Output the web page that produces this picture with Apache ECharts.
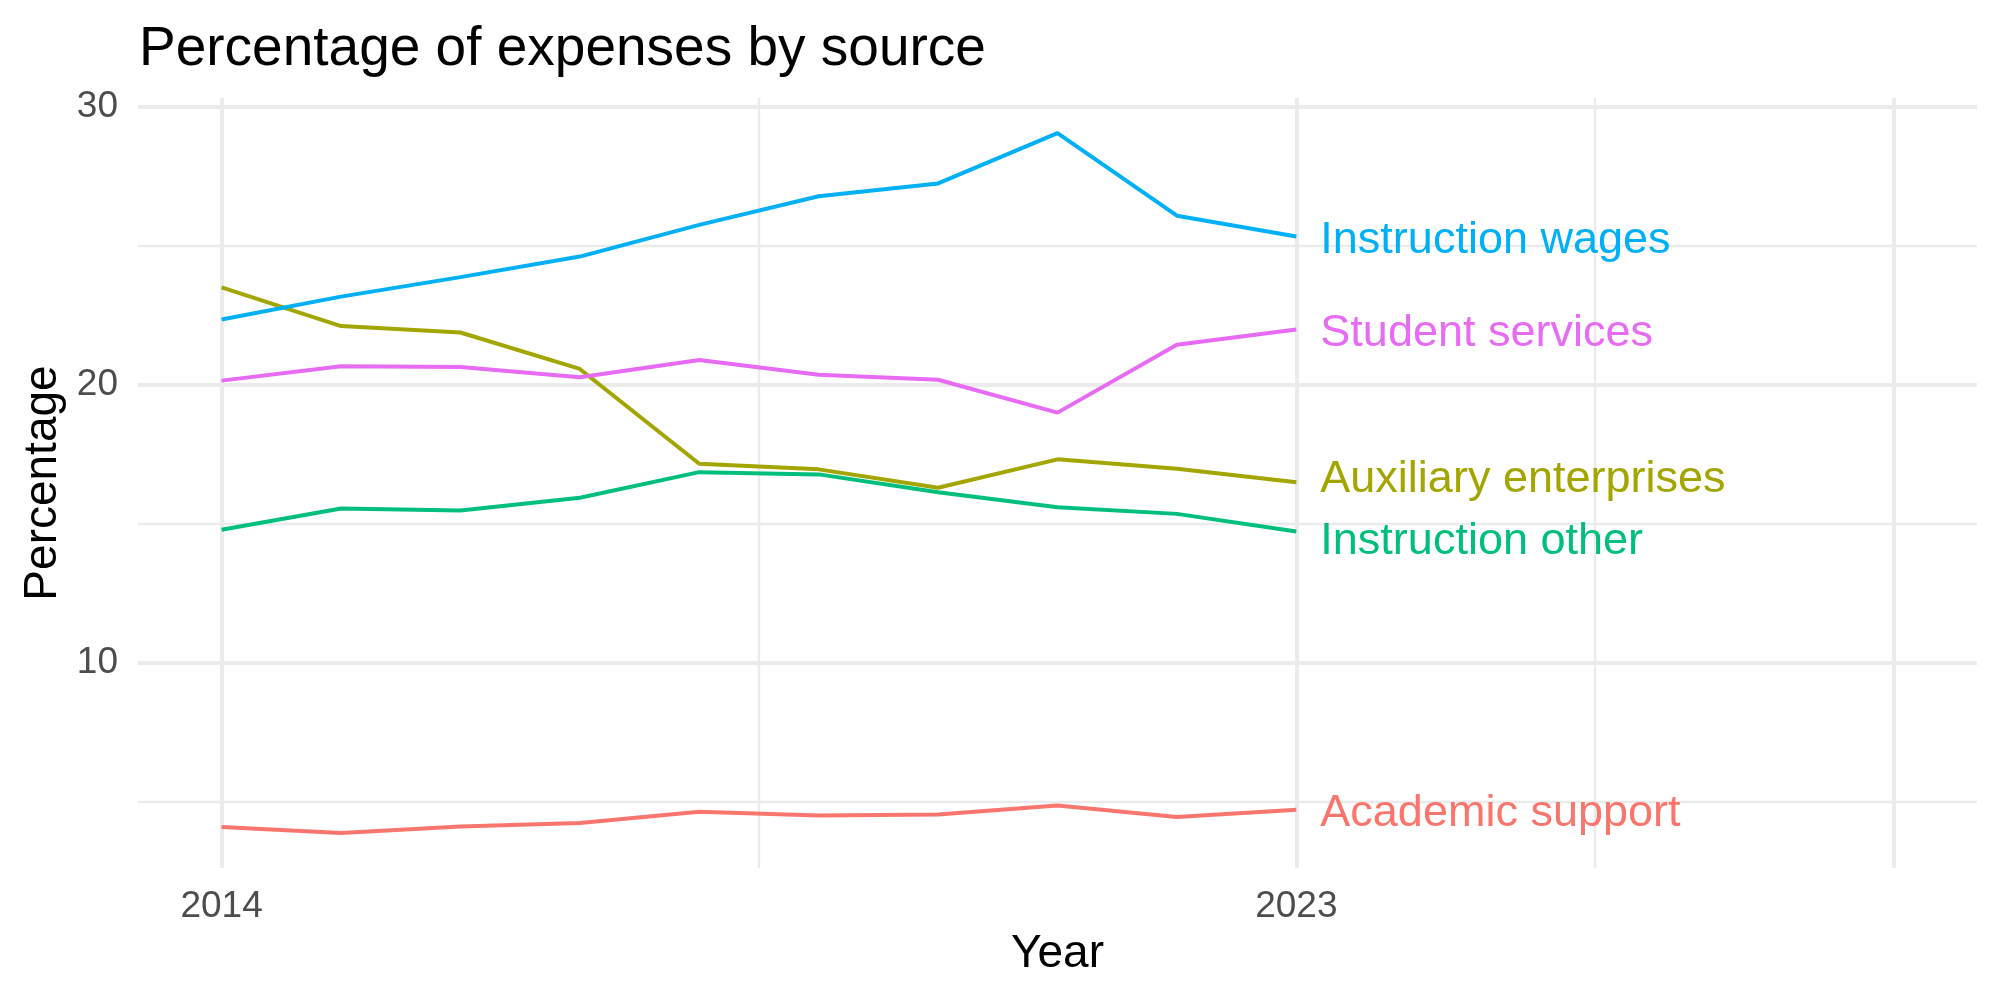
<!DOCTYPE html>
<html>
<head>
<meta charset="utf-8">
<script src="https://cdn.jsdelivr.net/npm/echarts@6/dist/echarts.min.js"></script>
<style>
  html, body { margin: 0; padding: 0; background: #fff; }
  #main { width: 2000px; height: 1000px; }
</style>
</head>
<body>
<div id="main"></div>
<script>
// data
let years = [2014, 2015, 2016, 2017, 2018, 2019, 2020, 2021, 2022, 2023]

let academicSupport = [4.10, 3.89, 4.12, 4.25, 4.65, 4.52, 4.55, 4.88, 4.46, 4.72]
let auxiliaryEnterprises = [23.50, 22.11, 21.88, 20.57, 17.16, 16.96, 16.30, 17.32, 16.98, 16.50]
let instructionOther = [14.79, 15.55, 15.48, 15.94, 16.86, 16.78, 16.14, 15.60, 15.36, 14.73]
let instructionWages = [22.35, 23.17, 23.87, 24.61, 25.75, 26.78, 27.24, 29.05, 26.08, 25.33]
let studentServices = [20.15, 20.67, 20.64, 20.27, 20.89, 20.36, 20.18, 19.00, 21.44, 21.99]

// tick labels / grid breaks
let xLabels = [2014, 2023]
let xMajor = [2014, 2023, 2028]
let xMinor = [2018.5, 2025.5]
let yLabels = [10, 20, 30]
let yMajor = [10, 20, 30]
let yMinor = [5, 15, 25]

let font = '"Liberation Sans", Arial, Helvetica, sans-serif'

function pairs(vals) {
	return years.map(function(y, i) { return [y, vals[i]] })
}

function makeLine(name, vals, color, offset) {
	return {
		name: name,
		type: 'line',
		z: 3,
		data: pairs(vals),
		showSymbol: false,
		symbol: 'none',
		lineStyle: { color: color, width: 4 },
		itemStyle: { color: color },
		endLabel: {
			show: true,
			formatter: '{a}',
			color: color,
			fontSize: 45,
			fontFamily: font,
			distance: 24,
			offset: offset || [0, 4]
		}
	}
}

// grid lines as markLines on an empty helper series
let gridLines = []
xMajor.forEach(function(v) { gridLines.push({ xAxis: v, lineStyle: { width: 4 } }) })
xMinor.forEach(function(v) { gridLines.push({ xAxis: v, lineStyle: { width: 2.4 } }) })
yMajor.forEach(function(v) { gridLines.push({ yAxis: v, lineStyle: { width: 4 } }) })
yMinor.forEach(function(v) { gridLines.push({ yAxis: v, lineStyle: { width: 2.4 } }) })

let myChart = echarts.init(document.getElementById('main'))

let option = {
	animation: false,
	backgroundColor: '#ffffff',
	textStyle: { fontFamily: font },
	title: {
		text: 'Percentage of expenses by source',
		left: 134,
		top: 17,
		textStyle: {
			fontFamily: font,
			fontSize: 55,
			fontWeight: 'normal',
			color: '#000000'
		}
	},
	grid: {
		left: 138,
		right: 23,
		top: 98,
		bottom: 132,
		containLabel: false
	},
	xAxis: {
		type: 'value',
		min: 2013.3,
		max: 2028.7,
		name: 'Year',
		nameLocation: 'middle',
		nameGap: 63,
		nameTextStyle: { fontFamily: font, fontSize: 46, color: '#000000' },
		axisLine: { show: false },
		axisTick: { show: false },
		splitLine: { show: false },
		axisLabel: {
			customValues: xLabels,
			fontFamily: font,
			fontSize: 37,
			color: '#4D4D4D',
			margin: 20,
			formatter: function(v) { return String(v) }
		}
	},
	yAxis: {
		type: 'value',
		min: 2.63,
		max: 30.31,
		name: 'Percentage',
		nameLocation: 'middle',
		nameGap: 70,
		nameTextStyle: { fontFamily: font, fontSize: 46, color: '#000000' },
		axisLine: { show: false },
		axisTick: { show: false },
		splitLine: { show: false },
		axisLabel: {
			customValues: yLabels,
			fontFamily: font,
			fontSize: 37,
			color: '#4D4D4D',
			margin: 20
		}
	},
	series: [
		{
			name: 'grid',
			type: 'line',
			z: 1,
			data: [],
			silent: true,
			markLine: {
				z: 1,
				silent: true,
				symbol: 'none',
				label: { show: false },
				lineStyle: { color: '#EBEBEB', type: 'solid' },
				emphasis: { disabled: true },
				data: gridLines
			}
		},
		makeLine('Academic support', academicSupport, '#F8766D'),
		makeLine('Auxiliary enterprises', auxiliaryEnterprises, '#A3A500', [0, -3]),
		makeLine('Instruction other', instructionOther, '#00BF7D', [0, 10]),
		makeLine('Instruction wages', instructionWages, '#00B0F6'),
		makeLine('Student services', studentServices, '#E76BF3')
	]
}

myChart.setOption(option)
</script>
</body>
</html>
